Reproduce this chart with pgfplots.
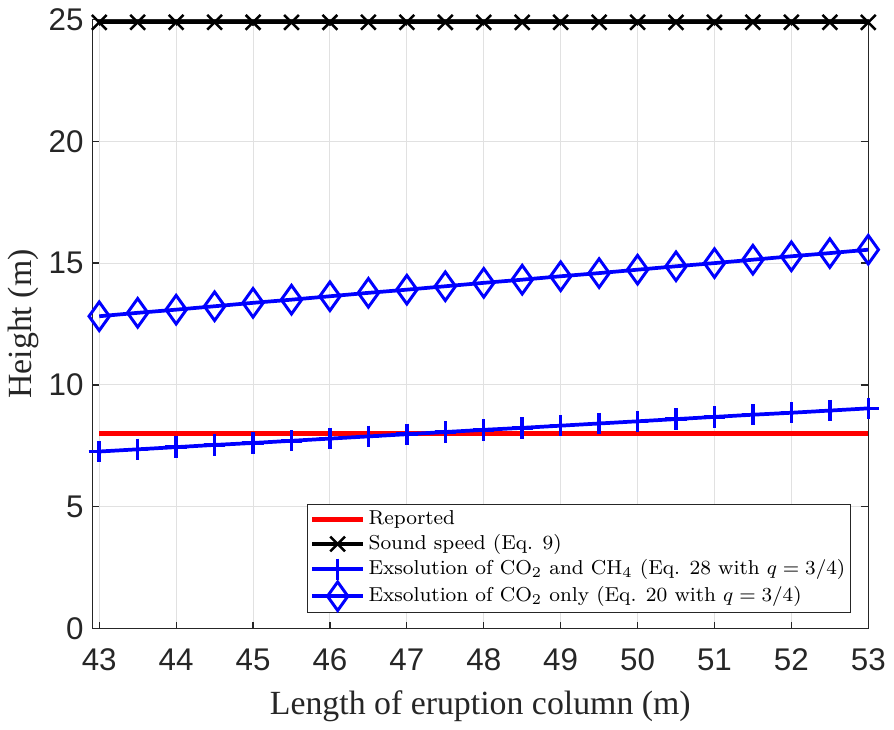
\documentclass[border=0pt]{standalone}
\usepackage{fontspec}
\usepackage{pgfplots}
\pgfplotsset{compat=1.18}
\newfontfamily\arialf{Liberation Sans}
\newfontfamily\timesf{Liberation Serif}
\definecolor{axgray}{RGB}{38,38,38}
\definecolor{gridgray}{RGB}{225,225,225}

\begin{document}
\begin{tikzpicture}
\begin{axis}[
  scale only axis,
  width=312pt, height=245pt,
  xmin=42.91, xmax=53, ymin=0, ymax=25,
  xtick={43,44,...,53}, ytick={0,5,...,25},
  grid=major, major grid style={gridgray, line width=0.4pt},
  axis line style={axgray, line width=0.5pt},
  tick style={axgray, line width=0.5pt},
  tick align=inside, major tick length=2.8pt,
  /pgf/number format/assume math mode=true,
  ticklabel style={font=\arialf\fontsize{12.6}{14}\selectfont, text=axgray},
  xticklabel style={yshift=-4.5pt},
  xlabel={Length of eruption column (m)},
  ylabel={Height (m)},
  label style={font=\timesf\fontsize{13.6}{15}\selectfont, text=axgray},
  xlabel style={yshift=-1pt},
  ylabel style={yshift=-3pt},
  legend cell align=left,
  legend style={at={(0.978,0.025)}, anchor=south east,
    font=\fontsize{8.1}{10}\selectfont, draw=axgray, line width=0.4pt,
    row sep=0pt, inner sep=1pt,
    nodes={inner ysep=1.3pt, inner xsep=1.2pt}},
  legend image code/.code={
    \draw[mark repeat=2, mark phase=2, #1]
      plot coordinates {(0cm,0cm) (0.36cm,0cm) (0.72cm,0cm)};},
]
\addplot[red, line width=2pt] coordinates {(43,8) (53,8)};
\addlegendentry{Reported}

\addplot[black, line width=1.5pt, mark=x, mark size=4.2pt,
  mark options={line width=1pt}] coordinates {
(43,24.88) (43.5,24.88) (44,24.88) (44.5,24.88) (45,24.88) (45.5,24.88)
(46,24.88) (46.5,24.88) (47,24.88) (47.5,24.88) (48,24.88) (48.5,24.88)
(49,24.88) (49.5,24.88) (50,24.88) (50.5,24.88) (51,24.88) (51.5,24.88)
(52,24.88) (52.5,24.88) (53,24.88)};
\addlegendentry{Sound speed (Eq. 9)}

\addplot[blue, line width=1.5pt, mark=+, mark size=4.3pt,
  mark options={line width=1.4pt}] coordinates {
(43,7.27) (43.5,7.36) (44,7.45) (44.5,7.54) (45,7.62) (45.5,7.71)
(46,7.80) (46.5,7.89) (47,7.98) (47.5,8.07) (48,8.16) (48.5,8.24)
(49,8.33) (49.5,8.42) (50,8.51) (50.5,8.60) (51,8.69) (51.5,8.78)
(52,8.86) (52.5,8.95) (53,9.04)};
\addlegendentry{Exsolution of CO$_2$ and CH$_4$ (Eq. 28 with $q=3/4$)}

\addplot[blue, line width=1.5pt, mark=square, mark size=2.9pt,
  mark options={yscale=1.4, rotate=45, line width=1.2pt}] coordinates {
(43,12.82) (43.5,12.96) (44,13.09) (44.5,13.23) (45,13.37) (45.5,13.50)
(46,13.64) (46.5,13.78) (47,13.91) (47.5,14.05) (48,14.19) (48.5,14.32)
(49,14.46) (49.5,14.59) (50,14.73) (50.5,14.87) (51,15.00) (51.5,15.14)
(52,15.28) (52.5,15.41) (53,15.55)};
\addlegendentry{Exsolution of CO$_2$ only (Eq. 20 with $q=3/4$)}
\end{axis}
\end{tikzpicture}
\end{document}
